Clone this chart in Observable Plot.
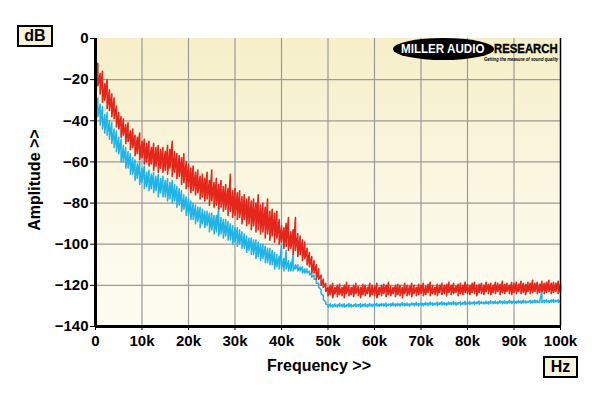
<!DOCTYPE html>
<html>
<head>
<meta charset="utf-8">
<script src="https://cdn.jsdelivr.net/npm/d3@7"></script>
<script src="https://cdn.jsdelivr.net/npm/@observablehq/plot@0.6"></script>
<style>
  body { margin: 0; background: #ffffff; }
  #wrap { position: relative; width: 600px; height: 396px; background: #ffffff; overflow: hidden;
          font-family: "Liberation Sans", Arial, sans-serif; }
  #bg { position: absolute; left: 95px; top: 38px; width: 465px; height: 288px;
        background: linear-gradient(to bottom, #f6efc8 0%, #faf6df 45%, #fefdf3 100%); }
  #chart { position: absolute; left: 0; top: 0; }
  .box { position: absolute; border: 2px solid #000; background: #f8f4dc; font-weight: bold;
         font-size: 16px; display: flex; align-items: center; justify-content: center; box-sizing: border-box; }
  .atitle { position: absolute; font-weight: bold; font-size: 16px; color: #000; white-space: nowrap; }
  #logo-ell { position: absolute; left: 393px; top: 38px; width: 101px; height: 22px; border-radius: 50%; background: #000; }
  .logo-t { position: absolute; white-space: nowrap; font-weight: bold; }
</style>
</head>
<body>
<div id="wrap">
  <div id="bg"></div>
  <div id="chart"></div>
</div>
<script>
// ---- tick values ----
const xTicks = [0, 10, 20, 30, 40, 50, 60, 70, 80, 90, 100];
const xTickLabels = ["0", "10k", "20k", "30k", "40k", "50k", "60k", "70k", "80k", "90k", "100k"];
const yTicks = [0, -20, -40, -60, -80, -100, -120, -140];

// frequency sample grid, kHz (0 .. 100 in 0.5 kHz steps)
const freqKHz = d3.range(0, 100.25, 0.5);

// ---- red trace: upper and lower edges of the noise band (dB) ----
const redHi = [
  -10,-12,-17,-16,-22,-20,-25,-27,-29,-33,
  -36,-38,-39,-42,-41,-45,-44,-47,-48,-46,
  -50,-49,-51,-50,-53,-51,-53,-52,-54,-53,
  -55,-52,-54,-50,-55,-56,-57,-58,-56,-60,
  -61,-63,-62,-65,-64,-67,-66,-68,-65,-69,
  -64,-70,-68,-71,-69,-72,-71,-73,-66,-74,
  -73,-75,-74,-77,-76,-78,-77,-79,-78,-80,
  -76,-81,-80,-82,-78,-84,-83,-85,-84,-88,
  -91,-92,-90,-87,-94,-93,-87,-95,-96,-98,
  -99,-102,-104,-106,-108,-110,-112,-115,-117,-119,
  -121,-120,-119,-121,-120,-119.5,-121,-120,-118.5,-120,-121,-120,-119,-120.5,-121,-119.5,-120,-121,-119,-120,
  -120.5,-119,-121,-120,-119.5,-120,-118.5,-120.5,-121,-120,-119.5,-120,-121,-119,-120,-120.5,-119,-120,-121,-119.5,
  -120,-119,-120.5,-119.5,-118.5,-120,-121,-119.5,-120,-119,-120,-119.5,-118.5,-120,-119,-120.5,-119.5,-119,-120,-118.5,
  -119.5,-120,-119,-118.5,-120,-119.5,-119,-120,-118.5,-119.5,-119,-120,-118.5,-119,-119.5,-118,-119.5,-119,-120,-118.5,
  -119,-118.5,-119.5,-118,-119,-119.5,-118.5,-119,-117.5,-119,-118.5,-119.5,-118,-119,-118.5,-117.5,-119,-118.5,-119,-118,-119
];
const redLo = [
  -20,-23,-27,-31,-30,-34,-35,-38,-39,-43,
  -44,-48,-47,-51,-50,-54,-53,-57,-56,-59,
  -58,-61,-60,-62,-61,-64,-62,-65,-63,-65,
  -64,-66,-63,-67,-65,-68,-67,-71,-70,-73,
  -72,-75,-74,-76,-75,-78,-77,-79,-78,-81,
  -79,-82,-81,-83,-82,-84,-83,-86,-84,-87,
  -86,-88,-87,-90,-88,-91,-90,-93,-91,-94,
  -93,-95,-94,-97,-95,-98,-96,-99,-97,-100,
  -99,-102,-101,-103,-102,-105,-103,-106,-105,-108,
  -107,-110,-111,-114,-114,-117,-117,-120,-121,-123,
  -125,-124.5,-126,-124,-125.5,-124.5,-125,-126,-124,-125,-124.5,-125.5,-124,-125,-126,-124.5,-125,-124,-125.5,-124.5,
  -125,-126,-124.5,-125,-124,-125.5,-124.5,-125,-124,-125.5,-124.5,-125,-126,-124,-125,-124.5,-125.5,-124,-125,-124.5,
  -124,-125,-124.5,-123.5,-125,-124,-124.5,-125,-123.5,-124.5,-124,-125,-123.5,-124.5,-124,-123.5,-125,-124,-124.5,-123.5,
  -124,-124.5,-123.5,-124,-125,-123.5,-124,-124.5,-123,-124,-124.5,-123.5,-124,-123,-124.5,-123.5,-124,-123,-124,-124.5,
  -123.5,-124,-123,-124,-123.5,-124.5,-123,-124,-123.5,-123,-124,-123.5,-123,-124,-123.5,-123,-124,-123.5,-123,-124,-123.5
];

// ---- blue trace: upper and lower edges of the noise band (dB) ----
const blueHi = [
  -25,-29,-32,-33,-37,-36,-40,-41,-44,-45,
  -48,-49,-52,-53,-55,-56,-58,-59,-61,-60,
  -63,-62,-65,-64,-66,-65,-67,-66,-68,-67,
  -69,-68,-70,-69,-71,-72,-73,-74,-76,-77,
  -78,-79,-80,-81,-82,-82,-83,-84,-84,-85,
  -85,-86,-86,-82,-87,-88,-88,-89,-90,-91,
  -92,-92,-93,-94,-95,-96,-97,-97,-98,-98,
  -99,-100,-100,-101,-102,-102,-103,-104,-105,-106,
  -100,-107,-103,-108,-109,-105,-110,-110,-111,-111,
  -112,-112,-113,-114,-115,-117,-119,-122,-125,-128,
  -129.5,-129,-129.5,-129,-129.5,-128.8,-129.3,-129,-129.5,-128.8,-129.2,-129.5,-129,-129.3,-128.8,-129.2,-129,-129.4,-128.8,-129.2,
  -129,-128.7,-129.2,-128.8,-129,-128.6,-129.1,-128.8,-128.5,-129,-128.7,-129,-128.4,-128.8,-128.6,-129,-128.5,-128.8,-128.3,-128.7,
  -128.5,-128.8,-128.3,-128.6,-128.2,-128.5,-128.7,-128.2,-128.5,-128,-128.4,-128.6,-128.1,-128.4,-127.9,-128.3,-128.5,-128,-128.3,-127.8,
  -128.2,-127.9,-128.3,-127.8,-128.1,-127.6,-128,-128.2,-127.7,-128,-127.5,-127.9,-127.6,-128,-127.4,-127.8,-127.5,-127.9,-127.3,-127.7,
  -127.5,-127.8,-127.3,-127.6,-127.2,-127.5,-127.8,-127.2,-127.5,-127.1,-127.4,-127.6,-122.5,-127.2,-127,-127.4,-127.1,-126.9,-127.3,-127,-127.2
];
const blueLo = [
  -36,-38,-42,-44,-46,-47,-49,-51,-53,-55,
  -56,-60,-60,-63,-63,-66,-66,-69,-68,-71,
  -70,-73,-72,-74,-73,-75,-74,-77,-75,-77,
  -77,-79,-78,-80,-79,-82,-81,-84,-83,-86,
  -86,-88,-88,-90,-89,-92,-90,-92,-91,-94,
  -93,-95,-94,-96,-95,-97,-96,-98,-98,-100,
  -99,-101,-100,-102,-102,-104,-103,-105,-105,-107,
  -106,-108,-107,-109,-109,-110,-110,-112,-111,-112,
  -112,-113,-112,-113,-113,-113,-112,-113,-113,-114,
  -114,-114,-115,-116,-117,-119,-121,-124,-127,-129,
  -130.5,-130.2,-130.6,-130.3,-130.5,-130.1,-130.4,-130.6,-130.2,-130.4,-130.5,-130.1,-130.4,-130.2,-130.5,-130.1,-130.3,-130.5,-130,-130.3,
  -130.2,-130,-130.3,-129.9,-130.1,-130.3,-129.8,-130.1,-129.9,-130.2,-129.8,-130,-129.7,-130,-129.8,-130.1,-129.6,-129.9,-129.7,-129.9,
  -129.6,-129.9,-129.5,-129.8,-129.4,-129.7,-129.5,-129.8,-129.3,-129.6,-129.4,-129.7,-129.2,-129.5,-129.3,-129.6,-129.1,-129.4,-129.2,-129.5,
  -129.1,-129.3,-129,-129.2,-128.9,-129.2,-128.8,-129.1,-128.9,-129.1,-128.7,-129,-128.8,-129,-128.6,-128.9,-128.7,-128.9,-128.5,-128.8,
  -128.6,-128.8,-128.5,-128.7,-128.4,-128.6,-128.3,-128.6,-128.4,-128.5,-128.2,-128.5,-128.3,-128.4,-128.1,-128.4,-128.2,-128.3,-128,-128.3,-128.1
];

// build zig-zag traces (hi then lo at each sample)
function trace(hi, lo) {
  const out = [];
  freqKHz.forEach((f, i) => {
    out.push({ f, v: hi[i] });
    out.push({ f, v: lo[i] });
  });
  return out;
}
const redData = trace(redHi, redLo);
const blueData = trace(blueHi, blueLo);

const chart = Plot.plot({
  width: 600,
  height: 396,
  marginLeft: 95,
  marginRight: 40,
  marginTop: 38,
  marginBottom: 70,
  style: { background: "transparent", fontFamily: "'Liberation Sans', Arial, sans-serif", fontSize: "15px", fontWeight: "bold", color: "#000", overflow: "visible" },
  x: { domain: [0, 100], ticks: xTicks, tickFormat: (d) => xTickLabels[xTicks.indexOf(d)], label: null, tickSize: 4, tickPadding: 5 },
  y: { domain: [-140, 0], ticks: yTicks, label: null, tickSize: 5, tickPadding: 2 },
  marks: [
    Plot.gridX(xTicks.filter(d => d > 0 && d < 100), { stroke: "#9a9a9a", strokeOpacity: 1, strokeWidth: 1.2 }),
    Plot.gridY(yTicks.filter(d => d < 0 && d > -140), { stroke: "#9a9a9a", strokeOpacity: 1, strokeWidth: 1.2 }),
    Plot.line(blueData, { x: "f", y: "v", stroke: "#1fb3e8", strokeWidth: 1.5 }),
    Plot.line(redData, { x: "f", y: "v", stroke: "#e4261b", strokeWidth: 1.6 }),
    Plot.ruleX([100], { stroke: "#000", strokeWidth: 1.5 }),
    Plot.ruleX([0], { stroke: "#000", strokeWidth: 3 }),
    Plot.ruleY([-140], { stroke: "#000", strokeWidth: 3 })
  ]
});
document.getElementById("chart").appendChild(chart);

const wrap = document.getElementById("wrap");
function add(html) { wrap.insertAdjacentHTML("beforeend", html); }
add('<div class="box" style="left:17px;top:25px;width:36px;height:22px;">dB</div>');
add('<div class="box" style="left:543px;top:356px;width:35px;height:22px;">Hz</div>');
add('<div class="atitle" style="left:319px;top:366px;transform:translate(-50%,-50%);">Frequency &gt;&gt;</div>');
add('<div class="atitle" style="left:35px;top:180px;transform:translate(-50%,-50%) rotate(-90deg);">Amplitude &gt;&gt;</div>');
add('<div id="logo-ell"></div>');
add('<div class="logo-t" style="left:401px;top:42px;color:#fff;font-size:13.5px;line-height:14px;transform:scaleX(0.86);transform-origin:left top;">MILLER AUDIO</div>');
add('<div class="logo-t" style="left:494px;top:42px;color:#000;font-size:13.5px;line-height:14px;transform:scaleX(0.84);transform-origin:left top;-webkit-text-stroke:0.4px #000;">RESEARCH</div>');
add('<div class="logo-t" style="left:484px;top:56px;color:#000;font-size:6px;line-height:6px;font-style:italic;transform:scaleX(0.7);transform-origin:left top;">Getting the measure of sound quality</div>');
</script>
</body>
</html>
